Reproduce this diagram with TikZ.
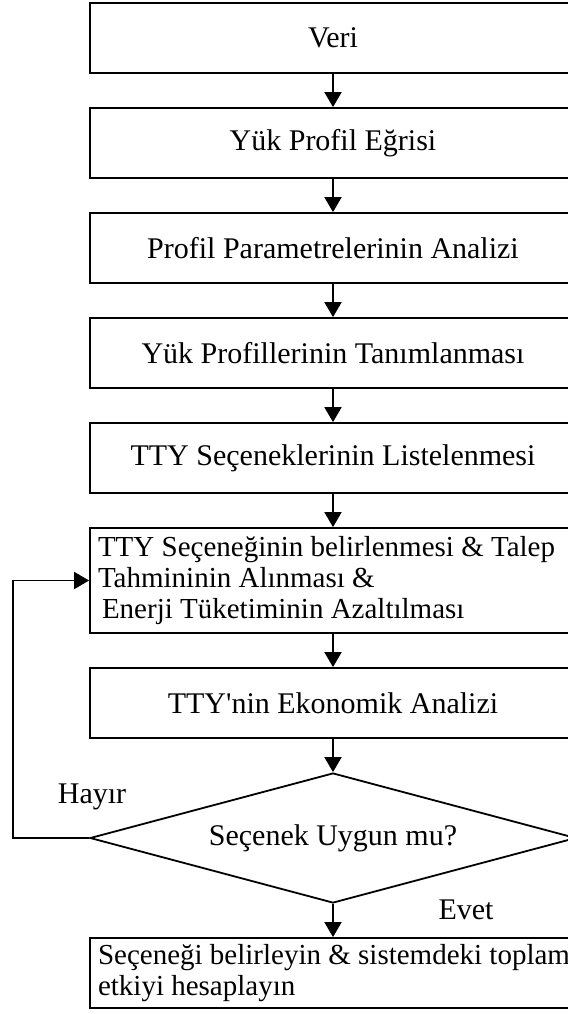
\documentclass[tikz,border=0pt]{standalone}
\usepackage{fontspec}
\setmainfont{Liberation Serif}
\usetikzlibrary{positioning, arrows.meta, shapes.geometric}

\begin{document}
\begin{tikzpicture}[
    x=0.5pt, y=-0.5pt,
    adim/.style={draw, line width=0.9pt, minimum width=243pt, minimum height=35pt,
      inner sep=0pt, font=\fontsize{15}{15.5}\selectfont, align=center},
    uzun/.style={adim, text width=235pt, inner xsep=4pt, align=flush left,
      font=\fontsize{14.5}{15.5}\selectfont},
    karar/.style={draw, line width=0.9pt, diamond, aspect=3.74, minimum width=243pt,
      minimum height=65pt, inner sep=0pt, font=\fontsize{15}{15.5}\selectfont},
    etiket/.style={font=\fontsize{15}{15.5}\selectfont},
    ok/.style={line width=0.9pt, -{Triangle[length=7.5pt, width=8.5pt]}},
    node distance=16.6pt,
  ]
  \useasboundingbox (0,0) rectangle (568,1014);
  \clip (0,0) rectangle (568,1014);

  \node[adim] (veri) at (333,38) {Veri};
  \node[adim, below=of veri] (egri) {Yük Profil Eğrisi};
  \node[adim, below=of egri] (param) {Profil Parametrelerinin Analizi};
  \node[adim, below=of param] (tanim) {Yük Profillerinin Tanımlanması};
  \node[adim, below=of tanim] (liste) {TTY Seçeneklerinin Listelenmesi};
  \node[uzun, minimum height=52.5pt, below=of liste] (tty) {\mbox{TTY Seçeneğinin belirlenmesi \& Talep}\\
    Tahmininin Alınması \&\\ \hspace{2pt}Enerji Tüketiminin Azaltılması};
  \node[adim, below=of tty] (eko) {TTY\textquotesingle nin Ekonomik Analizi};
  \node[karar, below=of eko] (dec) {Seçenek Uygun mu?};
  \node[uzun, below=of dec] (sonuc) {\mbox{Seçeneği belirleyin \& sistemdeki toplam}\\ etkiyi hesaplayın};

  \node[etiket] (hayir) at (92,797) {Hayır};
  \node[etiket] (evet) at (466,910) {Evet};
  \coordinate (donus) at ([xshift=-38pt]dec.west);

  \draw[ok] (veri) -- (egri);
  \draw[ok] (egri) -- (param);
  \draw[ok] (param) -- (tanim);
  \draw[ok] (tanim) -- (liste);
  \draw[ok] (liste) -- (tty);
  \draw[ok] (tty) -- (eko);
  \draw[ok] (eko) -- (dec);
  \draw[ok] (dec) -- (sonuc);
  \draw[ok] (dec.west) -- (donus) |- (tty.west);
\end{tikzpicture}
\end{document}
